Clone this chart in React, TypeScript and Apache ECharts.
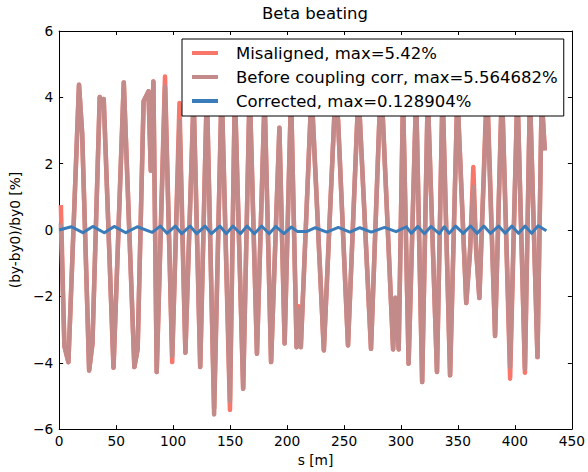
import React, { useEffect, useRef } from "react";
import * as echarts from "echarts";

// s positions [m] of the beta-beating extrema (shared by the two uncorrected curves)
const beatingS = [1.5, 4.6, 8.1, 17.4, 20.2, 26.3, 29.2, 35.6, 37.6, 39.1, 47.7, 56.7, 66.0, 68.9, 74.1, 78.4, 80.4, 82.7, 85.6, 92.9, 99.2, 105.6, 110.8, 118.0, 123.8, 129.6, 136.0, 142.6, 149.9, 154.2, 161.5, 167.2, 173.6, 180.3, 186.0, 193.3, 197.9, 203.5, 208.4, 210.1, 212.1, 221.5, 232.3, 242.5, 244.8, 253.5, 262.7, 273.7, 281.0, 283.0, 293.1, 295.1, 298.0, 301.8, 306.7, 313.3, 318.6, 323.5, 331.6, 336.5, 343.1, 349.5, 357.3, 360.5, 363.5, 366.0, 368.8, 375.5, 382.6, 388.6, 395.8, 402.2, 408.8, 413.2, 419.8, 423.5, 426.2];

const misalignedV = [0.75, -3.5, -3.98, 4.38, 2.9, -4.23, -3.43, 4.01, 3.85, 3.95, -4.15, 4.45, -4.13, -3.58, 3.88, 4.18, 1.79, 4.48, -4.28, 4.63, -3.98, 3.83, -3.7, 4.0, -4.13, 4.2, -5.38, 4.3, -5.42, 4.2, -4.78, 4.3, -3.73, 4.0, -3.98, 3.08, -3.42, 4.1, -3.53, -2.3, -3.53, 4.2, -3.63, 4.2, 3.3, -3.48, 4.2, -3.58, 3.3, 4.2, -3.6, -2.04, -3.6, 4.0, -4.03, 4.1, -4.58, 4.1, -4.28, 4.2, -4.38, 4.1, -2.2, -0.7, 1.9, -0.6, -2.05, 4.5, -3.19, 4.3, -4.48, 4.2, -4.3, 4.1, -3.83, 4.0, 2.4];

const beforeCorrV = [0.2, -3.5, -3.98, 4.38, 2.9, -4.23, -3.43, 4.01, 3.85, 3.95, -4.15, 4.45, -4.13, -3.58, 3.88, 4.18, 1.79, 4.48, -4.28, 4.33, -3.8, 3.28, -3.7, 4.0, -4.13, 4.2, -5.56, 4.3, -5.15, 4.2, -4.78, 4.3, -3.73, 4.0, -3.98, 3.08, -3.42, 4.1, -3.53, -2.4, -3.53, 4.2, -3.63, 4.2, 3.3, -3.48, 4.2, -3.58, 3.3, 4.2, -3.6, -2.04, -3.6, 4.0, -4.03, 4.1, -4.58, 4.1, -4.28, 4.2, -4.38, 4.1, -2.2, -0.7, 1.3, -0.6, -2.05, 4.2, -3.19, 4.3, -4.13, 4.2, -4.18, 4.1, -3.83, 4.0, 2.4];

const correctedS = [0, 10.7, 20.8, 29.5, 39.6, 48.3, 58.5, 68.6, 81.6, 88.8, 94.6, 101.9, 107.6, 114.9, 120.7, 128, 133.7, 141, 146.7, 152.5, 159.1, 164.9, 171.3, 177.7, 184.3, 190, 197.3, 203.7, 209, 217.6, 224.8, 234.9, 245, 255.2, 263.9, 274, 285.6, 295.7, 304.7, 309, 314.8, 320.6, 326.3, 333.6, 338, 342.3, 348, 354.7, 361, 366.9, 372.7, 378.5, 385.7, 391.5, 397.3, 403.1, 408.9, 414.7, 420.4, 427.6];

const correctedV = [0.0, 0.1, -0.08, 0.11, -0.08, 0.11, -0.08, 0.1, -0.07, 0.12, -0.1, 0.12, -0.11, 0.12, -0.11, 0.12, -0.11, 0.12, -0.11, 0.12, -0.11, 0.12, -0.11, 0.12, -0.11, 0.11, -0.11, 0.09, -0.04, -0.04, 0.07, -0.06, 0.08, -0.06, 0.07, -0.06, 0.08, -0.05, 0.1, -0.1, 0.11, -0.11, 0.11, -0.11, 0.1, -0.1, 0.12, -0.1, 0.12, -0.1, 0.12, -0.1, 0.12, -0.1, 0.12, -0.1, 0.12, -0.1, 0.13, -0.02];

const seriesNames = [
  "Misaligned, max=5.42%",
  "Before coupling corr, max=5.564682%",
  "Corrected, max=0.128904%",
];

const titleText = "Beta beating";
const xName = "s [m]";
const yName = "(by-by0)/by0 [%]";

const FONT = '"DejaVu Sans", "Bitstream Vera Sans", sans-serif';

export default function App() {
  const ref = useRef<HTMLDivElement>(null);

  useEffect(() => {
    if (!ref.current) return;
    const chart = echarts.init(ref.current, null, { renderer: "svg" });

    const minusFmt = (v: number) => (v < 0 ? "\u2212" + Math.abs(v) : String(v));
    const axisLine = { show: true, onZero: false, lineStyle: { color: "#000", width: 1 } };
    const axisTick = { show: true, inside: true, length: 4, lineStyle: { color: "#000", width: 1 } };
    const labelStyle = { color: "#000", fontSize: 13.75, fontFamily: FONT };
    const nameStyle = { color: "#000", fontSize: 13.75, fontFamily: FONT };

    chart.setOption({
      animation: false,
      textStyle: { fontFamily: FONT },
      title: {
        text: titleText,
        left: 315,
        top: 5,
        textAlign: "center",
        padding: 0,
        textStyle: { fontSize: 16.5, fontWeight: "normal", color: "#000", fontFamily: FONT },
      },
      grid: { left: 56, right: 13, top: 31, bottom: 36, containLabel: false },
      legend: {
        orient: "vertical",
        left: 182,
        top: 39,
        selectedMode: false,
        backgroundColor: "#fff",
        borderColor: "#000",
        borderWidth: 1,
        borderRadius: 0,
        padding: [4, 6, 5, 10],
        icon: "rect",
        itemWidth: 26,
        itemHeight: 4,
        itemGap: 4,
        textStyle: {
          fontSize: 16.5,
          lineHeight: 20,
          color: "#000",
          fontFamily: FONT,
          padding: [0, 0, 0, 13],
        },
        data: seriesNames,
      },
      xAxis: [
        {
          type: "value",
          min: 0,
          max: 450,
          interval: 50,
          position: "bottom",
          axisLine,
          axisTick,
          axisLabel: { ...labelStyle, margin: 5 },
          splitLine: { show: false },
          name: xName,
          nameLocation: "middle",
          nameGap: 21,
          nameTextStyle: nameStyle,
        },
        {
          type: "value",
          min: 0,
          max: 450,
          interval: 50,
          position: "top",
          axisLine,
          axisTick,
          axisLabel: { show: false },
          splitLine: { show: false },
        },
      ],
      yAxis: [
        {
          type: "value",
          min: -6,
          max: 6,
          interval: 2,
          position: "left",
          axisLine,
          axisTick,
          axisLabel: { ...labelStyle, margin: 6, formatter: minusFmt },
          splitLine: { show: false },
          name: yName,
          nameLocation: "middle",
          nameGap: 28,
          nameTextStyle: nameStyle,
        },
        {
          type: "value",
          min: -6,
          max: 6,
          interval: 2,
          position: "right",
          axisLine,
          axisTick,
          axisLabel: { show: false },
          splitLine: { show: false },
        },
      ],
      series: [
        {
          type: "line",
          name: seriesNames[0],
          xAxisIndex: 0,
          yAxisIndex: 0,
          data: beatingS.map((s, i) => [s, misalignedV[i]]),
          symbol: "none",
          showSymbol: false,
          lineStyle: { color: "#f8766a", width: 4.5, join: "round" },
          itemStyle: { color: "#f8766a" },
          emphasis: { disabled: true },
        },
        {
          type: "line",
          name: seriesNames[1],
          xAxisIndex: 0,
          yAxisIndex: 0,
          data: beatingS.map((s, i) => [s, beforeCorrV[i]]),
          symbol: "none",
          showSymbol: false,
          lineStyle: { color: "#c38a8a", width: 4.5, join: "round" },
          itemStyle: { color: "#c38a8a" },
          emphasis: { disabled: true },
        },
        {
          type: "line",
          name: seriesNames[2],
          xAxisIndex: 0,
          yAxisIndex: 0,
          data: correctedS.map((s, i) => [s, correctedV[i]]),
          symbol: "none",
          showSymbol: false,
          lineStyle: { color: "#3a7cb9", width: 3, join: "round" },
          itemStyle: { color: "#3a7cb9" },
          emphasis: { disabled: true },
        },
      ],
    });

    return () => chart.dispose();
  }, []);

  return (
    <div
      ref={ref}
      style={{ position: "fixed", left: 0, top: 0, width: 588, height: 472, background: "#fff" }}
    />
  );
}
